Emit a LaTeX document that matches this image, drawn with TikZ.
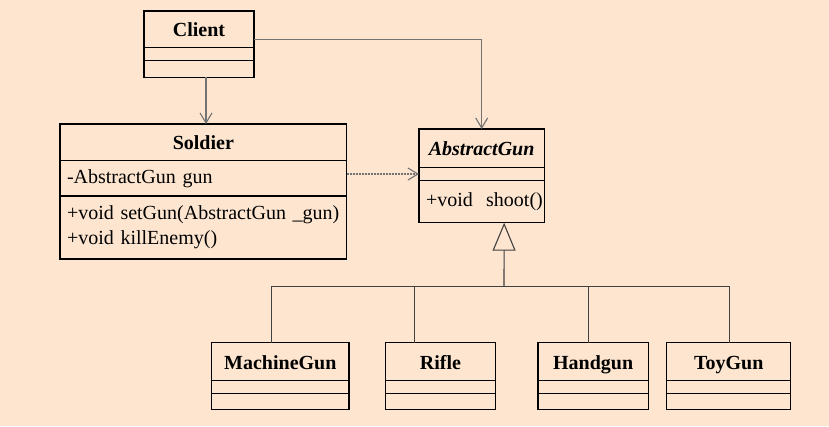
\documentclass[tikz,border=0pt]{standalone}
\usepackage{fontspec}
\setmainfont{Liberation Serif}
\usetikzlibrary{positioning,arrows.meta}
\definecolor{bgpeach}{RGB}{253,229,208}

\begin{document}
\begin{tikzpicture}[x=1pt,y=-1pt,
    box/.style={draw,line width=1.2pt,inner sep=0pt,outer sep=0pt,anchor=north west,
                font=\fontsize{20}{25}\selectfont},
    title/.style={box,font=\fontsize{20}{25}\selectfont\bfseries,text height=15pt,text depth=0pt},
    members/.style={box,align=left,inner xsep=7pt},
    assoc/.style={draw=black!55,line width=1.1pt,-{Straight Barb[length=10pt,width=12pt]}},
    dep/.style={assoc,dash pattern=on 2pt off 1pt},
    tree/.style={draw=black!75,line width=1.1pt}]
    \fill[bgpeach] (0,0) rectangle (829,426);
    \useasboundingbox (0,0) rectangle (829,426);

    % classes
    \node (clientname) at (144,11) [title,minimum width=110pt,minimum height=36.7pt] {Client};
    \node (clientattr) [box,below=0pt of clientname,minimum width=110pt,minimum height=12.6pt] {};
    \node (clientops) [box,below=0pt of clientattr,minimum width=110pt,minimum height=17pt] {};

    \node (soldiername) at (60,124) [title,minimum width=286.7pt,minimum height=36.7pt] {Soldier};
    \node (soldierattr) [members,below=0pt of soldiername,text width=272.7pt,minimum height=35.3pt] {-AbstractGun gun};
    \node (soldierops) [members,below=0pt of soldierattr,text width=272.7pt,minimum height=63pt]
        {\mbox{+void setGun(AbstractGun \_gun)}\\+void killEnemy()};

    \node (absname) at (419,129) [title,minimum width=125.3pt,minimum height=38.7pt] {\itshape AbstractGun};
    \node (absattr) [box,below=0pt of absname,minimum width=125.3pt,minimum height=12.6pt] {};
    \node (absops) [members,below=0pt of absattr,text width=111.3pt,minimum height=42.4pt] {\mbox{+void~~shoot()}};

    \node (mgname) at (211.7,342.7) [title,minimum width=137.3pt,minimum height=38pt] {MachineGun};
    \node (mgattr) [box,below=0pt of mgname,minimum width=137.3pt,minimum height=12.6pt] {};
    \node (mgops) [box,below=0pt of mgattr,minimum width=137.3pt,minimum height=16pt] {};

    \node (riflename) at (385.3,342.7) [title,minimum width=110.4pt,minimum height=38pt] {Rifle};
    \node (rifleattr) [box,below=0pt of riflename,minimum width=110.4pt,minimum height=12.6pt] {};
    \node (rifleops) [box,below=0pt of rifleattr,minimum width=110.4pt,minimum height=16pt] {};

    \node (handname) at (538,342.7) [title,minimum width=110.3pt,minimum height=38pt] {Handgun};
    \node (handattr) [box,below=0pt of handname,minimum width=110.3pt,minimum height=12.6pt] {};
    \node (handops) [box,below=0pt of handattr,minimum width=110.3pt,minimum height=16pt] {};

    \node (toyname) at (666.7,342.7) [title,minimum width=124pt,minimum height=38pt] {ToyGun};
    \node (toyattr) [box,below=0pt of toyname,minimum width=124pt,minimum height=12.6pt] {};
    \node (toyops) [box,below=0pt of toyattr,minimum width=124pt,minimum height=16pt] {};

    % associations
    \draw[assoc] ([xshift=7pt]clientops.south) -- ([xshift=7pt]clientops.south |- soldiername.north);
    \draw[assoc] ([yshift=-10pt]clientname.east) -| (absname.north);
    \draw[dep] (soldierattr.east |- absattr) -- (absattr.west);

    % inheritance
    \coordinate (bus) at (504,286.7);
    \draw[tree] ([xshift=-8.6pt]mgname.north) |- (bus) -| ([xshift=0.6pt]toyname.north);
    \draw[tree] ([xshift=-26.2pt]riflename.north) -- ([xshift=-26.2pt]riflename.north |- bus);
    \draw[tree] ([xshift=-4.9pt]handname.north) -- ([xshift=-4.9pt]handname.north |- bus);
    \draw[tree,-{Triangle[open,length=28pt,width=23pt,fill=bgpeach]}] (bus) -- ([xshift=22.5pt]absops.south);
\end{tikzpicture}
\end{document}
